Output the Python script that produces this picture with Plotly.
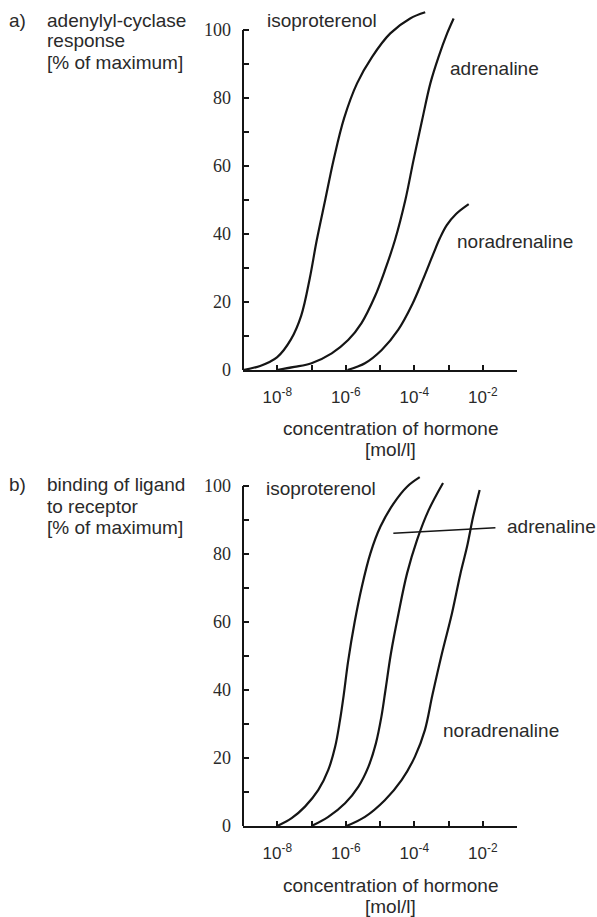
"""Dose-response curves: adenylyl-cyclase response and receptor binding."""

import numpy as np
import plotly.graph_objects as go

# Log10 of hormone concentration [mol/l] and response [% of maximum]
# a) adenylyl-cyclase response
iso_a_logc = [-9.0, -8.5, -8.0, -7.6, -7.3, -7.05, -6.85, -6.6, -6.35, -6.05,
              -5.67, -5.23, -4.70, -4.12, -3.68]
iso_a_resp = [0, 1.2, 3.8, 9.0, 16.0, 27.0, 38.0, 50.0, 62.0, 74.0,
              84.3, 92.1, 99.0, 103.4, 105.2]
adr_a_logc = [-8.02, -7.5, -7.0, -6.41, -5.93, -5.54, -5.15, -4.85, -4.56, -4.26,
              -4.02, -3.77, -3.53, -3.29, -3.04, -2.85]
adr_a_resp = [0, 0.9, 2.0, 4.9, 8.8, 13.8, 21.6, 29.5, 38.3, 50.0,
              61.8, 73.5, 84.3, 92.1, 99.0, 103.4]
nor_a_logc = [-5.95, -5.44, -4.95, -4.47, -4.05, -3.75, -3.45, -3.25, -3.05, -2.78, -2.41]
nor_a_resp = [0, 2.0, 5.9, 11.8, 19.5, 26.5, 34.0, 38.8, 42.6, 45.9, 48.8]

# b) binding of ligand to receptor
iso_b_logc = [-8.0, -7.58, -7.19, -6.80, -6.51, -6.31, -6.17, -6.06, -5.93, -5.74,
              -5.53, -5.28, -4.99, -4.60, -4.21, -3.84]
iso_b_bind = [0, 2.3, 5.7, 10.6, 16.5, 23.3, 31.0, 38.5, 48.5, 60.0,
              70.4, 80.2, 88.0, 94.9, 99.8, 102.6]
adr_b_logc = [-7.0, -6.51, -6.02, -5.63, -5.34, -5.12, -4.96, -4.84, -4.68, -4.46,
              -4.21, -3.92, -3.58, -3.16]
adr_b_bind = [0, 2.7, 6.7, 11.6, 17.4, 24.3, 32.1, 40.0, 50.8, 62.5,
              74.3, 84.1, 92.9, 100.9]
nor_b_logc = [-5.98, -5.44, -4.86, -4.37, -3.98, -3.69, -3.47, -3.19, -2.90, -2.65,
              -2.46, -2.28, -2.09]
nor_b_bind = [0, 2.7, 7.6, 13.5, 20.4, 28.2, 38.5, 50.8, 62.5, 74.3,
              82.1, 91.0, 98.8]

# leader line for the "adrenaline" label in panel b
leader_logc = [-4.61, -1.63]
leader_bind = [86.1, 87.7]

decade_exps = [-9, -8, -7, -6, -5, -4, -3, -2, -1]
labeled_exps = [-8, -6, -4, -2]
y_ticks = [0, 10, 20, 30, 40, 50, 60, 70, 80, 90, 100]
y_labels = ["0", "", "20", "", "40", "", "60", "", "80", "", "100"]

# Page geometry in reference pixels (597 x 917). The figure itself is drawn
# slightly taller because the capture squeezes it back to 917 px.
W, REF_H = 597, 917
H = 927
AXIS_LEFT, AXIS_RIGHT = 243, 517
ML = AXIS_LEFT
PW = AXIS_RIGHT - AXIS_LEFT
MR = W - ML - PW
Y_MAX = 107
PX_PER_UNIT = 3.4

INK = "#151515"
TEXT = "#2a2a2a"
SANS = "Liberation Sans, Arial, sans-serif"
SERIF = "Liberation Serif, Times New Roman, serif"


def px_x(px):
    return (px - ML) / PW


def px_y(py):
    return 1 - py / REF_H


def y_domain(zero_px):
    top_px = zero_px - Y_MAX * PX_PER_UNIT
    return [max(0.0, px_y(zero_px)), min(1.0, px_y(top_px))]


fig = go.Figure()

panel_a = [(iso_a_logc, iso_a_resp), (adr_a_logc, adr_a_resp), (nor_a_logc, nor_a_resp)]
panel_b = [(iso_b_logc, iso_b_bind), (adr_b_logc, adr_b_bind), (nor_b_logc, nor_b_bind)]

for axes, panel in [(("x", "y"), panel_a), (("x2", "y2"), panel_b)]:
    for logc, vals in panel:
        fig.add_trace(go.Scatter(
            x=10 ** np.array(logc), y=vals, mode="lines",
            line=dict(color=INK, width=2.2, shape="spline", smoothing=1.0),
            xaxis=axes[0], yaxis=axes[1], showlegend=False, hoverinfo="skip",
        ))

fig.add_trace(go.Scatter(
    x=10 ** np.array(leader_logc), y=leader_bind, mode="lines",
    line=dict(color=INK, width=1.4),
    xaxis="x2", yaxis="y2", showlegend=False, hoverinfo="skip",
))

x_tickvals = [10.0 ** e for e in decade_exps]
x_ticktext = [f"10<sup>{e}</sup>" if e in labeled_exps else "" for e in decade_exps]

xaxis_style = dict(
    type="log",
    range=[decade_exps[0], decade_exps[-1]],
    tickvals=x_tickvals,
    ticktext=x_ticktext,
    ticks="inside",
    ticklen=5,
    tickwidth=2,
    tickcolor=INK,
    showline=True,
    linewidth=2,
    linecolor=INK,
    showgrid=False,
    zeroline=False,
    ticklabelstandoff=11,
    tickfont=dict(family=SANS, size=17, color=TEXT),
    domain=[0, 1],
)

yaxis_style = dict(
    range=[0, Y_MAX],
    tickvals=y_ticks,
    ticktext=y_labels,
    ticks="inside",
    ticklen=6,
    tickwidth=2,
    tickcolor=INK,
    showline=False,
    showgrid=False,
    zeroline=False,
    ticklabelstandoff=11,
    tickfont=dict(family=SERIF, size=18, color=TEXT),
)

fig.update_layout(
    width=W,
    height=H,
    margin=dict(l=ML, r=MR, t=0, b=0),
    paper_bgcolor="white",
    plot_bgcolor="white",
    showlegend=False,
    xaxis=dict(**xaxis_style, anchor="y"),
    yaxis=dict(**yaxis_style, anchor="x", domain=y_domain(370)),
    xaxis2=dict(**xaxis_style, anchor="y2"),
    yaxis2=dict(**yaxis_style, anchor="x2", domain=y_domain(826)),
)

# y-axis lines stop at 100 % while curves overshoot slightly
for xr, yr in [("x domain", "y"), ("x2 domain", "y2")]:
    fig.add_shape(type="line", xref=xr, yref=yr, x0=0, x1=0, y0=0, y1=100,
                  line=dict(color=INK, width=2))

labels = [
    # (text, page x px, page y px, anchor)
    ("a)", 8, 20, "left"),
    ("adenylyl-cyclase", 46, 20, "left"),
    ("response", 46, 41, "left"),
    ("[% of maximum]", 46, 62, "left"),
    ("isoproterenol", 266, 20, "left"),
    ("adrenaline", 449, 68, "left"),
    ("noradrenaline", 456, 242, "left"),
    ("concentration of hormone", 390, 428, "center"),
    ("[mol/l]", 390, 449, "center"),
    ("b)", 8, 485, "left"),
    ("binding of ligand", 46, 485, "left"),
    ("to receptor", 46, 506, "left"),
    ("[% of maximum]", 46, 527, "left"),
    ("isoproterenol", 265, 488, "left"),
    ("adrenaline", 506, 526, "left"),
    ("noradrenaline", 442, 730, "left"),
    ("concentration of hormone", 390, 885, "center"),
    ("[mol/l]", 390, 906, "center"),
]

for text, xpx, ypx, anchor in labels:
    fig.add_annotation(
        text=text, xref="paper", yref="paper",
        x=px_x(xpx), y=px_y(ypx),
        xanchor=anchor, yanchor="middle", showarrow=False,
        borderpad=0,
        font=dict(family=SANS, size=19, color=TEXT),
    )

pin_div = (
    "document.body.style.margin='0';"
    "var d=document.getElementsByClassName('plotly-graph-div')[0];"
    "d.style.position='fixed';d.style.top='0';d.style.left='0';"
)

fig.write_html("out.html", config={"displayModeBar": False}, post_script=pin_div)
